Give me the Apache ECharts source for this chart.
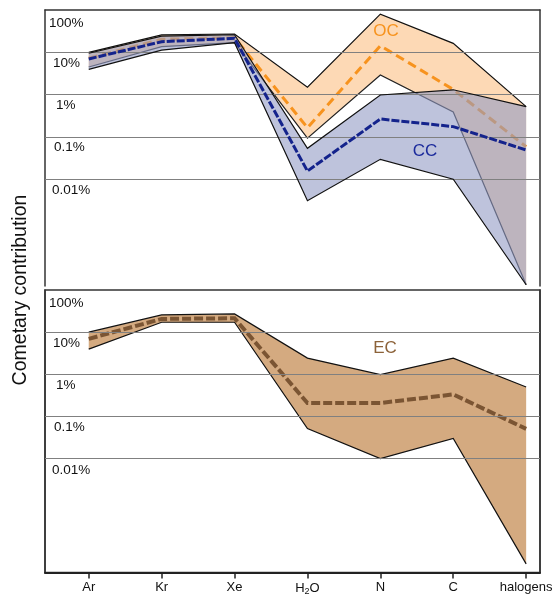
<!DOCTYPE html>
<html>
<head>
<meta charset="utf-8">
<script src="https://cdn.jsdelivr.net/npm/echarts@6/dist/echarts.min.js"></script>
<style>html,body{margin:0;padding:0;background:#fff}#chart{width:556px;height:596px}</style>
</head>
<body>
<div id="chart"></div>
<script>
// ---- data (percent) ----
const categories = ['Ar', 'Kr', 'Xe', 'H2O', 'N', 'C', 'halogens'];
const ocUpper = [10, 25.7, 27.1, 1.49, 80, 16.3, 0.52];
const ocLower = [4.5, 13.6, 17, 0.093, 2.9, 0.39, 3.2e-5];
const ocMean  = [7.3, 20.3, 22, 0.165, 14.3, 1.32, 0.0586];
const ccUpper = [9.5, 24, 26, 0.0537, 0.98, 1.3, 0.52];
const ccLower = [3.96, 11.3, 16.9, 0.0031, 0.0295, 0.01, 3.2e-5];
const ccMean  = [6.95, 17.8, 21.4, 0.0156, 0.265, 0.175, 0.049];
const ecUpper = [10, 25.6, 27, 2.43, 0.98, 2.43, 0.50];
const ecLower = [3.96, 17.2, 17.2, 0.0518, 0.01, 0.030, 3.2e-5];
const ecMean  = [6.95, 20.6, 21.4, 0.209, 0.209, 0.334, 0.051];
const yTickLabels = ['100%', '10%', '1%', '0.1%', '0.01%'];
const gridLineValues = [10, 1, 0.1, 0.01];
const yTitle = 'Cometary contribution';

// ---- styling ----
const FONT = "'Liberation Sans', Arial, Helvetica, sans-serif";
const frameColor = '#333';
const gridColor = '#808080';

function pts(arr) { return arr.map((v, i) => [i, v]); }

function bandSeries(upper, lower, fill, gi, z) {
  return {
    type: 'custom', xAxisIndex: gi, yAxisIndex: gi * 2, silent: true, z: z,
    data: categories.map((c, i) => [i, lower[i], upper[i]]),
    encode: { x: 0, y: [1, 2] },
    renderItem: function (params, api) {
      if (params.dataIndex !== 0) return null;
      const p = [];
      for (let i = 0; i < upper.length; i++) p.push(api.coord([i, upper[i]]));
      for (let i = lower.length - 1; i >= 0; i--) p.push(api.coord([i, lower[i]]));
      return { type: 'polygon', shape: { points: p }, style: { fill: fill } };
    }
  };
}
function lineSeries(data, color, width, type, gi, z) {
  return {
    type: 'line', xAxisIndex: gi, yAxisIndex: gi * 2, data: pts(data), z: z,
    symbol: 'none', silent: true,
    lineStyle: { color: color, width: width, type: type, cap: 'butt', join: 'miter' }
  };
}
function gridLinesSeries(gi) {
  return {
    type: 'line', xAxisIndex: gi, yAxisIndex: gi * 2, data: [], z: 1, silent: true, symbol: 'none',
    markLine: {
      silent: true, symbol: ['none', 'none'], animation: false,
      label: { show: false },
      lineStyle: { color: gridColor, width: 1, type: 'solid' },
      emphasis: { disabled: true },
      data: gridLineValues.map(v => ({ yAxis: v }))
    }
  };
}

function yLabelFormatter(v) {
  const k = Math.log10(v), r = Math.round(k);
  if (Math.abs(k - r) > 1e-6) return '';
  const idx = 2 - r;
  if (idx < 0 || idx >= yTickLabels.length) return '';
  return '{t' + idx + '|' + yTickLabels[idx] + '}';
}
const yRich = {
  t0: { padding: [12, 0, 0, 4], fontSize: 13.5, lineHeight: 14, fontFamily: FONT, color: '#111' },
  t1: { padding: [8, 0, 0, 8], fontSize: 13.5, lineHeight: 14, fontFamily: FONT, color: '#111' },
  t2: { padding: [7, 0, 0, 11], fontSize: 13.5, lineHeight: 14, fontFamily: FONT, color: '#111' },
  t3: { padding: [7, 0, 0, 9], fontSize: 13.5, lineHeight: 14, fontFamily: FONT, color: '#111' },
  t4: { padding: [9, 0, 0, 7], fontSize: 13.5, lineHeight: 14, fontFamily: FONT, color: '#111' }
};
function logYAxis(gi, minExp) {
  return {
    type: 'log', gridIndex: gi, logBase: 10, min: Math.pow(10, minExp), max: 100,
    axisLine: { show: true, onZero: false, lineStyle: { color: frameColor, width: 1.5 } },
    axisTick: { show: false },
    splitLine: { show: false },
    minorSplitLine: { show: false },
    axisLabel: { inside: true, margin: 0, verticalAlign: 'top', showMaxLabel: true, showMinLabel: false,
      formatter: yLabelFormatter, rich: yRich }
  };
}
function rightBorderAxis(gi) {
  return {
    type: 'value', gridIndex: gi, position: 'right',
    axisLine: { show: true, onZero: false, lineStyle: { color: frameColor, width: 1.5 } },
    axisTick: { show: false }, axisLabel: { show: false }, splitLine: { show: false }
  };
}

const xMin = -0.6, xMax = 6.19;
const catIdx = categories.map((c, i) => i);

const option = {
  animation: false,
  backgroundColor: '#fff',
  textStyle: { fontFamily: FONT },
  grid: [
    { left: 45, right: 16, top: 10, height: 276 },
    { left: 45, right: 16, top: 290, height: 284, show: true, borderColor: frameColor, borderWidth: 1.5, backgroundColor: 'transparent' }
  ],
  xAxis: [
    { type: 'value', gridIndex: 0, min: xMin, max: xMax, position: 'top',
      axisLine: { show: true, onZero: false, lineStyle: { color: frameColor, width: 1.5 } },
      axisTick: { show: false }, axisLabel: { show: false }, splitLine: { show: false } },
    { type: 'value', gridIndex: 1, min: xMin, max: xMax, position: 'bottom',
      axisLine: { show: true, onZero: false, lineStyle: { color: '#222', width: 2 } },
      axisTick: { show: true, customValues: catIdx, length: 6, lineStyle: { color: '#222', width: 1.5 } },
      splitLine: { show: false },
      axisLabel: { show: true, customValues: catIdx, margin: 8, fontSize: 13, color: '#111', fontFamily: FONT,
        formatter: function (v) {
          const c = categories[Math.round(v)];
          if (c === 'H2O') return '{n|H}{s|2}{n|O}';
          return c || '';
        },
        rich: {
          n: { fontSize: 13, fontFamily: FONT, color: '#111', lineHeight: 15 },
          s: { fontSize: 9, fontFamily: FONT, color: '#111', lineHeight: 9, padding: [7, 0, 0, 0] }
        } } }
  ],
  yAxis: [
    logYAxis(0, -4.525), rightBorderAxis(0),
    logYAxis(1, -4.70), rightBorderAxis(1)
  ],
  graphic: [
    { type: 'text', x: 21, y: 290, rotation: Math.PI / 2, z: 100,
      style: { text: yTitle, fontSize: 19.5, fontFamily: FONT, fill: '#111', align: 'center', verticalAlign: 'middle' } },
    { type: 'text', x: 386, y: 31, z: 100,
      style: { text: 'OC', fontSize: 17, fontFamily: FONT, fill: '#F7931E', align: 'center', verticalAlign: 'middle' } },
    { type: 'text', x: 425, y: 151, z: 100,
      style: { text: 'CC', fontSize: 17, fontFamily: FONT, fill: '#1B2A9C', align: 'center', verticalAlign: 'middle' } },
    { type: 'text', x: 385, y: 348, z: 100,
      style: { text: 'EC', fontSize: 17, fontFamily: FONT, fill: '#8C6239', align: 'center', verticalAlign: 'middle' } }
  ],
  series: [
    gridLinesSeries(0),
    gridLinesSeries(1),
    bandSeries(ocUpper, ocLower, 'rgba(252,201,149,0.7)', 0, 2),
    lineSeries(ocUpper, '#111', 1.2, 'solid', 0, 3),
    lineSeries(ocLower, '#222', 1.2, 'solid', 0, 3),
    lineSeries(ocMean, '#F7931E', 3, [9, 5], 0, 3),
    bandSeries(ccUpper, ccLower, 'rgba(147,155,197,0.6)', 0, 4),
    lineSeries(ccUpper, '#111', 1.2, 'solid', 0, 5),
    lineSeries(ccLower, '#111', 1.2, 'solid', 0, 5),
    lineSeries(ccMean, '#14238C', 3, [8, 2], 0, 5),
    bandSeries(ecUpper, ecLower, 'rgba(201,149,96,0.8)', 1, 2),
    lineSeries(ecUpper, '#111', 1.2, 'solid', 1, 3),
    lineSeries(ecLower, '#111', 1.2, 'solid', 1, 3),
    lineSeries(ecMean, '#7B5533', 4, [9, 3], 1, 3)
  ]
};

const chart = echarts.init(document.getElementById('chart'), null, { renderer: 'canvas' });
chart.setOption(option);
</script>
</body>
</html>
